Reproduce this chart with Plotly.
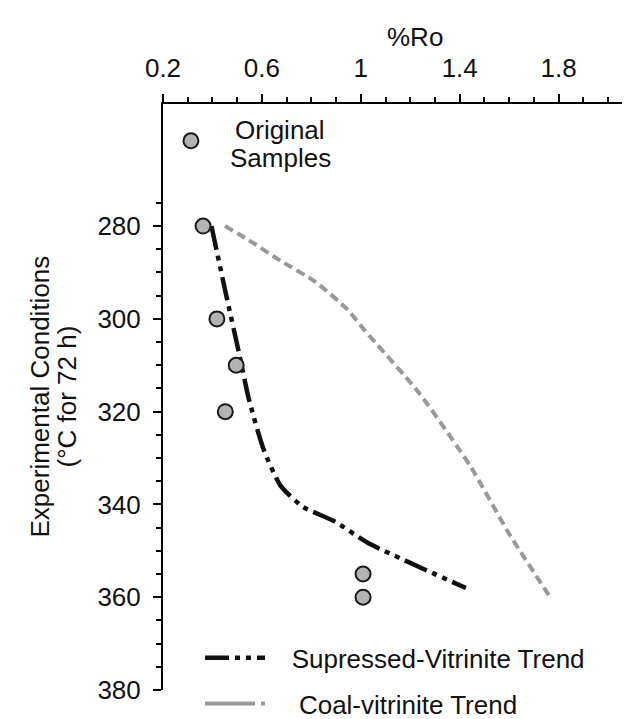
import plotly.graph_objects as go

# ---- data ----
temp_c = [280, 300, 310, 320, 355, 360]
ro_pct = [0.362, 0.418, 0.496, 0.452, 1.009, 1.009]

original_ro = [0.313]
original_pos = [261.6]

sv_ro = [0.396, 0.456, 0.506, 0.546, 0.606, 0.676, 0.766, 0.896, 1.026, 1.425]
sv_temp = [280, 295, 307, 317, 328, 336, 340.5, 343.7, 348.2, 358]

cv_ro = [0.451, 0.546, 0.676, 0.816, 0.946, 1.016, 1.236, 1.446, 1.596, 1.766]
cv_temp = [280, 283, 287.5, 292, 298, 302.5, 316, 332, 346, 360]

x_ticks = [0.2, 0.6, 1, 1.4, 1.8]
x_ticktext = ["0.2", "0.6", "1", "1.4", "1.8"]
x_minor = [0.3, 0.4, 0.5, 0.7, 0.8, 0.9, 1.1, 1.2, 1.3, 1.5, 1.6, 1.7, 1.9, 2.0, 2.1]
y_ticks = [280, 300, 320, 340, 360, 380]
y_minor = [275, 285, 290, 295, 305, 310, 315, 325, 330, 335, 345, 350, 355, 365, 370, 375]

sv_name = "\u00a0\u00a0\u00a0Supressed-Vitrinite Trend"
cv_name = "\u00a0\u00a0\u00a0\u00a0Coal-vitrinite Trend"

FONT = "Liberation Sans, Arial, sans-serif"
TXT = "#111111"
marker_style = dict(size=15, color="#b3b3b3", line=dict(color="#1a1a1a", width=2))

fig = go.Figure()

# data lines (legend entries drawn by style proxies below)
fig.add_trace(go.Scatter(
    x=cv_ro, y=cv_temp, mode="lines", showlegend=False,
    line=dict(color="#999999", width=4, dash="9px,5px", shape="spline", smoothing=0.6),
))
fig.add_trace(go.Scatter(
    x=sv_ro, y=sv_temp, mode="lines", name=sv_name, legend="legend",
    line=dict(color="#111111", width=4.5, dash="24px,6px,5px,6px,5px,6px",
              shape="spline", smoothing=0.6),
))
# legend style proxy for the coal-vitrinite trend (no data points)
fig.add_trace(go.Scatter(
    x=[None], y=[None], mode="lines", name=cv_name, legend="legend2",
    line=dict(color="#999999", width=4, dash="50px,6px,4px,30px"),
))
fig.add_trace(go.Scatter(
    x=ro_pct, y=temp_c, mode="markers", marker=marker_style, showlegend=False,
))
fig.add_trace(go.Scatter(
    x=original_ro, y=original_pos, mode="markers", marker=marker_style, showlegend=False,
))

PX_T, PX_B = 96, 699   # plot top/bottom in px
H = PX_B - PX_T
L = 155
W = 630 - L

def py(p):
    return (PX_B - p) / H

def px(p):
    return (p - L) / W

fig.add_annotation(x=px(272), y=py(123), xref="paper", yref="paper", text="Original",
                   showarrow=False, font=dict(family=FONT, size=26, color=TXT),
                   xanchor="center", yanchor="middle")
fig.add_annotation(x=px(272), y=py(152), xref="paper", yref="paper", text="Samples",
                   showarrow=False, font=dict(family=FONT, size=26, color=TXT),
                   xanchor="center", yanchor="middle")
fig.add_annotation(x=px(407), y=py(27), xref="paper", yref="paper", text="%Ro",
                   showarrow=False, font=dict(family=FONT, size=26, color=TXT),
                   xanchor="center", yanchor="middle")
fig.add_annotation(x=px(32), y=py(397), xref="paper", yref="paper",
                   text="Experimental Conditions", textangle=-90, showarrow=False,
                   font=dict(family=FONT, size=26, color=TXT),
                   xanchor="center", yanchor="middle")
fig.add_annotation(x=px(59), y=py(397), xref="paper", yref="paper",
                   text="(°C for 72 h)", textangle=-90, showarrow=False,
                   font=dict(family=FONT, size=26, color=TXT),
                   xanchor="center", yanchor="middle")

fig.update_layout(
    width=630, height=719,
    margin=dict(l=L, r=0, t=PX_T, b=719 - PX_B, pad=0),
    paper_bgcolor="white", plot_bgcolor="white",
    font=dict(family=FONT, size=26, color=TXT),
    xaxis=dict(
        side="top", range=[0.2, 2.121], showgrid=False, zeroline=False,
        showline=True, linecolor="black", linewidth=2,
        tickmode="array", tickvals=x_ticks, ticktext=x_ticktext,
        ticks="outside", ticklen=8, tickwidth=2, tickcolor="black",
        ticklabelstandoff=7,
        tickfont=dict(family=FONT, size=26, color=TXT),
        minor=dict(tickmode="array", tickvals=x_minor, ticks="outside",
                   ticklen=5, tickwidth=2, tickcolor="black", showgrid=False),
    ),
    yaxis=dict(
        range=[380, 253.68], showgrid=False, zeroline=False,
        showline=True, linecolor="black", linewidth=2,
        tickmode="array", tickvals=y_ticks,
        ticks="outside", ticklen=8, tickwidth=2, tickcolor="black",
        ticklabelstandoff=7,
        tickfont=dict(family=FONT, size=26, color=TXT),
        minor=dict(tickmode="array", tickvals=y_minor, ticks="outside",
                   ticklen=5, tickwidth=2, tickcolor="black", showgrid=False),
    ),
    legend=dict(
        x=px(192), y=py(666), xanchor="left", yanchor="middle",
        bgcolor="rgba(0,0,0,0)", font=dict(family=FONT, size=26, color=TXT),
        itemwidth=60,
    ),
    legend2=dict(
        x=px(192), y=py(713), xanchor="left", yanchor="middle",
        bgcolor="rgba(0,0,0,0)", font=dict(family=FONT, size=26, color=TXT),
        itemwidth=60,
    ),
)

fig.write_html("out.html")
